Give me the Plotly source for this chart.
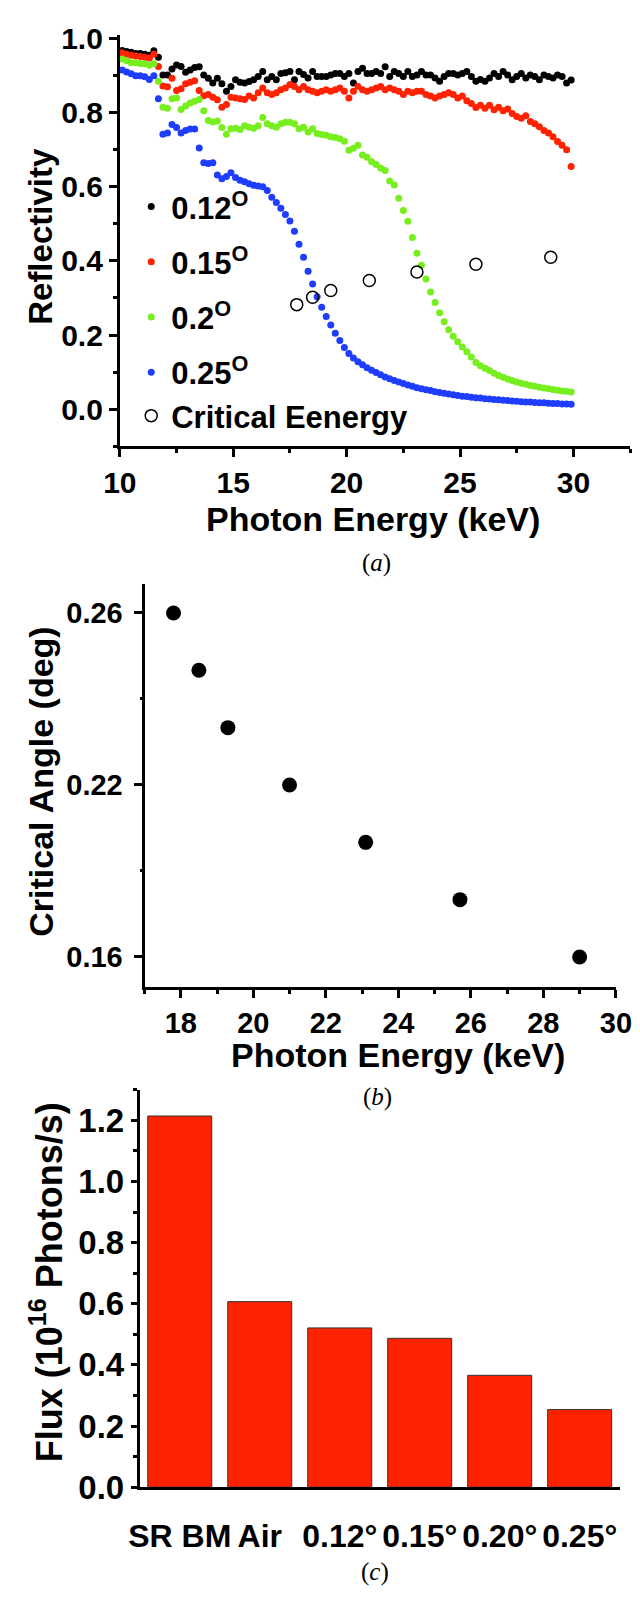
import plotly.graph_objects as go

W, H = 640, 1609
SANS = "Liberation Sans, Arial, sans-serif"
SERIF = "Liberation Serif, Times New Roman, serif"

# ---------------- panel (a): reflectivity vs photon energy ----------------
energy_kev = [
    10.1, 10.3, 10.5, 10.7, 10.9, 11.1, 11.3, 11.5, 11.7, 11.9,
    12.1, 12.3, 12.5, 12.7, 12.9, 13.1, 13.3, 13.5, 13.7, 13.9,
    14.1, 14.3, 14.5, 14.7, 14.9, 15.1, 15.3, 15.5, 15.7, 15.9,
    16.1, 16.3, 16.5, 16.7, 16.9, 17.1, 17.3, 17.5, 17.7, 17.9,
    18.1, 18.3, 18.5, 18.7, 18.9, 19.1, 19.3, 19.5, 19.7, 19.9,
    20.1, 20.3, 20.5, 20.7, 20.9, 21.1, 21.3, 21.5, 21.7, 21.9,
    22.1, 22.3, 22.5, 22.7, 22.9, 23.1, 23.3, 23.5, 23.7, 23.9,
    24.1, 24.3, 24.5, 24.7, 24.9, 25.1, 25.3, 25.5, 25.7, 25.9,
    26.1, 26.3, 26.5, 26.7, 26.9, 27.1, 27.3, 27.5, 27.7, 27.9,
    28.1, 28.3, 28.5, 28.7, 28.9, 29.1, 29.3, 29.5, 29.7, 29.9,
]

refl_012 = [
    0.968, 0.965, 0.963, 0.960, 0.960, 0.958, 0.955, 0.967, 0.950, 0.902,
    0.902, 0.918, 0.929, 0.925, 0.909, 0.915, 0.922, 0.924, 0.902, 0.893,
    0.880, 0.893, 0.878, 0.858, 0.871, 0.889, 0.882, 0.880, 0.884, 0.889,
    0.898, 0.911, 0.889, 0.898, 0.889, 0.906, 0.908, 0.911, 0.889, 0.911,
    0.903, 0.894, 0.911, 0.898, 0.898, 0.898, 0.902, 0.906, 0.906, 0.898,
    0.906, 0.880, 0.911, 0.920, 0.906, 0.906, 0.911, 0.906, 0.924, 0.898,
    0.911, 0.906, 0.898, 0.911, 0.898, 0.902, 0.911, 0.902, 0.902, 0.894,
    0.885, 0.898, 0.906, 0.906, 0.902, 0.906, 0.911, 0.898, 0.885, 0.890,
    0.885, 0.894, 0.906, 0.898, 0.911, 0.902, 0.889, 0.898, 0.906, 0.894,
    0.902, 0.898, 0.889, 0.902, 0.898, 0.894, 0.902, 0.898, 0.880, 0.888,
]

refl_015 = [
    0.962, 0.958, 0.955, 0.953, 0.952, 0.950, 0.948, 0.958, 0.925, 0.872,
    0.870, 0.893, 0.860, 0.865, 0.878, 0.882, 0.886, 0.860, 0.846, 0.849,
    0.842, 0.835, 0.815, 0.822, 0.842, 0.840, 0.838, 0.836, 0.845, 0.840,
    0.854, 0.867, 0.854, 0.849, 0.854, 0.862, 0.867, 0.876, 0.871, 0.862,
    0.871, 0.862, 0.858, 0.854, 0.858, 0.862, 0.858, 0.862, 0.867, 0.858,
    0.840, 0.858, 0.871, 0.862, 0.858, 0.862, 0.867, 0.871, 0.862, 0.867,
    0.862, 0.858, 0.849, 0.858, 0.854, 0.858, 0.858, 0.849, 0.845, 0.840,
    0.845, 0.849, 0.854, 0.849, 0.840, 0.845, 0.832, 0.825, 0.814, 0.820,
    0.812, 0.820, 0.808, 0.815, 0.805, 0.810, 0.798, 0.790, 0.785, 0.792,
    0.776, 0.770, 0.762, 0.752, 0.745, 0.735, 0.722, 0.712, 0.700, 0.655,
]

refl_020 = [
    0.945, 0.940, 0.935, 0.935, 0.933, 0.932, 0.928, 0.932, 0.885, 0.815,
    0.812, 0.838, 0.840, 0.809, 0.818, 0.826, 0.831, 0.836, 0.805, 0.779,
    0.775, 0.778, 0.760, 0.742, 0.757, 0.758, 0.755, 0.765, 0.761, 0.758,
    0.765, 0.787, 0.770, 0.765, 0.761, 0.770, 0.774, 0.774, 0.770, 0.757,
    0.761, 0.748, 0.757, 0.744, 0.741, 0.739, 0.735, 0.733, 0.730, 0.723,
    0.699, 0.704, 0.712, 0.686, 0.680, 0.668, 0.660, 0.651, 0.644, 0.616,
    0.605, 0.569, 0.536, 0.507, 0.463, 0.421, 0.388, 0.351, 0.316, 0.288,
    0.260, 0.236, 0.214, 0.197, 0.182, 0.168, 0.155, 0.141, 0.126, 0.117,
    0.110, 0.104, 0.097, 0.091, 0.086, 0.081, 0.077, 0.073, 0.070, 0.067,
    0.064, 0.062, 0.059, 0.057, 0.055, 0.053, 0.051, 0.049, 0.048, 0.046,
]

refl_025 = [
    0.915, 0.910, 0.905, 0.900, 0.900, 0.897, 0.890, 0.900, 0.838, 0.742,
    0.745, 0.768, 0.760, 0.745, 0.752, 0.756, 0.756, 0.705, 0.665, 0.663,
    0.665, 0.632, 0.622, 0.628, 0.638, 0.625, 0.618, 0.614, 0.608, 0.604,
    0.602, 0.600, 0.590, 0.572, 0.558, 0.542, 0.525, 0.508, 0.480, 0.445,
    0.410, 0.372, 0.338, 0.303, 0.275, 0.250, 0.227, 0.205, 0.185, 0.166,
    0.150, 0.138, 0.128, 0.120, 0.112, 0.105, 0.099, 0.093, 0.087, 0.082,
    0.077, 0.073, 0.069, 0.065, 0.062, 0.058, 0.055, 0.052, 0.050, 0.047,
    0.045, 0.043, 0.041, 0.039, 0.037, 0.035, 0.034, 0.032, 0.031, 0.030,
    0.028, 0.027, 0.026, 0.025, 0.024, 0.023, 0.022, 0.021, 0.020, 0.019,
    0.019, 0.018, 0.017, 0.017, 0.016, 0.015, 0.015, 0.014, 0.014, 0.013,
]

crit_energy = [17.8, 18.5, 19.3, 21.0, 23.1, 25.7, 29.0]
crit_refl = [0.282, 0.302, 0.320, 0.347, 0.370, 0.391, 0.410]

# ---------------- panel (b): critical angle vs energy ----------------
crit_angle = ["0.26", "0.25", "0.24", "0.22", "0.20", "0.18", "0.16"]
angle_order = ["0.16", "0.18", "0.20", "0.22", "0.24", "0.25", "0.26"]
angle_ticks = ["0.16", "0.22", "0.26"]

# ---------------- panel (c): flux ----------------
flux_labels = ["SR BM", "Air", "0.12°", "0.15°", "0.20°", "0.25°"]
flux_values = [1.214, 0.607, 0.521, 0.487, 0.366, 0.254]


def px(x):
    return x / W


def py(y):
    return 1 - y / H


axis_style = dict(showline=True, linecolor="black", linewidth=3, ticks="outside",
                  ticklen=8, tickwidth=2.5, tickcolor="black", showgrid=False,
                  zeroline=False, mirror=False)
minor_style = dict(ticks="outside", ticklen=4, tickwidth=2.5, tickcolor="black", showgrid=False)

fig = go.Figure()

# the last reflectivity curve shares its legend group with the critical points
# so that the two bottom legend rows sit closer together, as in the original
series = [
    ("0.12<sup>O</sup>", refl_012, "#000000", "g1"),
    ("0.15<sup>O</sup>", refl_015, "#ff2200", "g2"),
    ("0.2<sup>O</sup>", refl_020, "#77ee1e", "g3"),
    ("0.25<sup>O</sup>", refl_025, "#1f3dff", "g4"),
]
for name, vals, col, grp in series:
    fig.add_trace(go.Scatter(x=energy_kev, y=vals, mode="markers", name=name,
                             legendgroup=grp, marker=dict(size=7, color=col),
                             xaxis="x", yaxis="y"))

fig.add_trace(go.Scatter(x=crit_energy, y=crit_refl, mode="markers", name="Critical Eenergy",
                         legendgroup="g4",
                         marker=dict(symbol="circle-open", size=12, color="black",
                                     line=dict(width=1.5, color="black")),
                         xaxis="x", yaxis="y"))

fig.add_trace(go.Scatter(x=crit_energy, y=crit_angle, mode="markers", showlegend=False,
                         marker=dict(size=15, color="black"), xaxis="x2", yaxis="y2"))
# carrier for the minor ticks of the categorical angle axis
fig.add_trace(go.Scatter(x=[], y=[], showlegend=False, xaxis="x2", yaxis="y4"))

fig.add_trace(go.Bar(x=flux_labels, y=flux_values, width=0.8, showlegend=False,
                     marker=dict(color="#ff2200", line=dict(color="#333333", width=1)),
                     xaxis="x3", yaxis="y3"))

bold = lambda s: dict(family=SANS, size=s, color="black", weight="bold")

fig.update_layout(
    width=W, height=H, autosize=False,
    margin=dict(l=0, r=0, t=0, b=0),
    paper_bgcolor="white", plot_bgcolor="white",
    showlegend=True,
    legend=dict(x=px(112), y=py(162), xanchor="left", yanchor="top",
                bgcolor="rgba(0,0,0,0)", font=bold(31), tracegroupgap=12,
                itemsizing="trace"),
    xaxis=dict(axis_style, domain=[px(100), px(638)], range=[10, 32.5],
               tickvals=[10, 15, 20, 25, 30], tickfont=bold(30), anchor="y",
               minor=dict(minor_style, tick0=10, dtick=2.5)),
    yaxis=dict(axis_style, domain=[py(433.8), py(14.2)], range=[-0.1, 1.01],
               tickvals=[0, 0.2, 0.4, 0.6, 0.8, 1.0], tickformat=".1f",
               tickfont=bold(30), anchor="x",
               minor=dict(minor_style, tick0=0, dtick=0.1)),
    xaxis2=dict(axis_style, domain=[px(126), px(623)], range=[17, 30],
                tickvals=[18, 20, 22, 24, 26, 28, 30], tickfont=bold(29), anchor="y2",
                minor=dict(minor_style, tick0=17, dtick=1)),
    yaxis2=dict(axis_style, domain=[py(986), py(574.75)], type="category",
                categoryorder="array", categoryarray=angle_order, range=[-0.53, 6.5],
                tickvals=angle_ticks, ticktext=angle_ticks, tickfont=bold(29),
                ticklabelstandoff=5, anchor="x2"),
    yaxis4=dict(domain=[py(986), py(574.75)], overlaying="y2", anchor="x2", side="left",
                range=[-0.53, 6.5], tickvals=[1.5, 4.5], ticks="outside", ticklen=4,
                tickwidth=2.5, tickcolor="black", showticklabels=False, showline=False,
                showgrid=False, zeroline=False),
    xaxis3=dict(axis_style, domain=[px(121), px(627)], type="category",
                range=[-0.5, 5.5], ticks="", tickfont=bold(32), tickangle=0,
                ticklabelstandoff=18, anchor="y3"),
    yaxis3=dict(axis_style, domain=[py(1496), py(1090.4)], range=[0, 1.3],
                tickvals=[0, 0.2, 0.4, 0.6, 0.8, 1.0, 1.2], tickformat=".1f",
                ticklen=6, tickfont=bold(33), anchor="x3",
                minor=dict(minor_style, tick0=0, dtick=0.1)),
)

annos = [
    ("Reflectivity", 16, 220, -90, 33),
    ("Photon Energy (keV)", 367, 508, 0, 34),
    ("Critical Angle (deg)", 16, 776, -90, 34),
    ("Photon Energy (keV)", 393, 1055, 0, 34),
    ("Flux (10<sup>16</sup> Photons/s)", 23, 1287, -90, 36),
]
for text, x, y, ang, size in annos:
    fig.add_annotation(text=text, x=px(x), y=py(y), xref="paper", yref="paper",
                       xanchor="center", yanchor="middle", textangle=ang,
                       showarrow=False, font=bold(size))

for text, x, y in [("(<i>a</i>)", 371, 553), ("(<i>b</i>)", 372, 1098), ("(<i>c</i>)", 369, 1582)]:
    fig.add_annotation(text=text, x=px(x), y=py(y), xref="paper", yref="paper",
                       xanchor="center", yanchor="middle", showarrow=False,
                       font=dict(family=SERIF, size=25, color="black"))

fig.write_html("out.html")
